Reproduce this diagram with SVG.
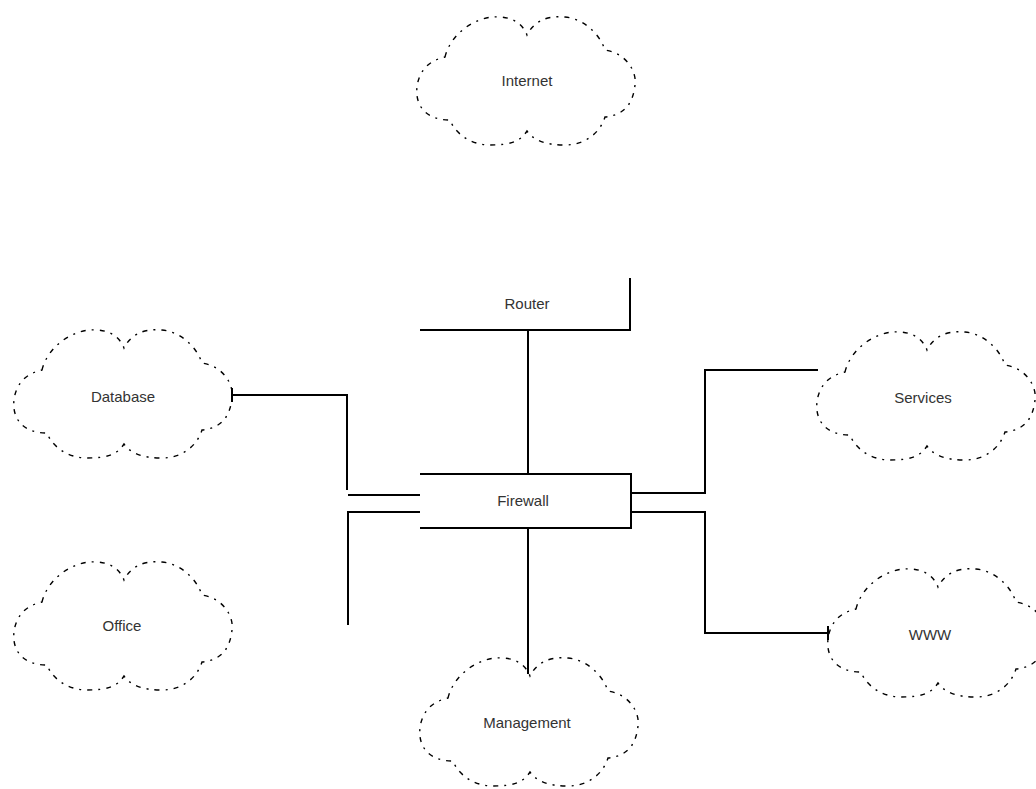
<svg xmlns="http://www.w3.org/2000/svg" xmlns:xlink="http://www.w3.org/1999/xlink" width="1036" height="789" viewBox="0 0 1036 789">
<style>
.cloud{fill:none;stroke:#000;stroke-width:1.4;stroke-dasharray:5 6 2 6}
.ln{fill:none;stroke:#000;stroke-width:2}
.lbl{font-family:"Liberation Sans",Arial,sans-serif;font-size:15px;fill:#333;text-anchor:middle;dominant-baseline:central}
</style>
<defs>
<path id="cloud" d="M30,42 C35,20 60,0 85,2 C100,3 108,10 112,20 C118,8 130,0 150,2 C170,4 185,20 190,35 C210,38 222,55 220,70 C218,88 210,100 190,102 C185,118 170,130 150,130 C130,130 118,125 112,116 C105,127 95,130 75,130 C55,130 40,118 35,105 C10,105 0,90 2,72 C4,55 15,45 30,42 Z"/>
</defs>
<rect width="1036" height="789" fill="#fff"/>
<g id="connectors">
<path class="ln" d="M528,330 V474"/>
<path class="ln" d="M528,528 V674"/>
<path class="ln" d="M232,395 H347 V490"/>
<path class="ln" d="M232,388 V402"/>
<path class="ln" d="M348,495 H420"/>
<path class="ln" d="M420,512 H348 V625"/>
<path class="ln" d="M631,493 H705 V370 H818"/>
<path class="ln" d="M631,512 H705 V633 H828"/>
<path class="ln" d="M828,626 V640"/>
</g>
<g id="internet"><use xlink:href="#cloud" class="cloud" transform="translate(415,15)"/><text class="lbl" x="527" y="80">Internet</text></g>
<g id="router"><path class="ln" d="M420,330 H630 V278"/><text class="lbl" x="527" y="303">Router</text></g>
<g id="firewall"><path class="ln" d="M420,474 H631 V528 H420"/><text class="lbl" x="523" y="500">Firewall</text></g>
<g id="database"><use xlink:href="#cloud" class="cloud" transform="translate(12,328)"/><text class="lbl" x="123" y="396">Database</text></g>
<g id="office"><use xlink:href="#cloud" class="cloud" transform="translate(12,560)"/><text class="lbl" x="122" y="625">Office</text></g>
<g id="management"><use xlink:href="#cloud" class="cloud" transform="translate(418,656)"/><text class="lbl" x="527" y="722">Management</text></g>
<g id="services"><use xlink:href="#cloud" class="cloud" transform="translate(815,330)"/><text class="lbl" x="923" y="397">Services</text></g>
<g id="www"><use xlink:href="#cloud" class="cloud" transform="translate(826,567)"/><text class="lbl" x="930" y="634">WWW</text></g>
</svg>
